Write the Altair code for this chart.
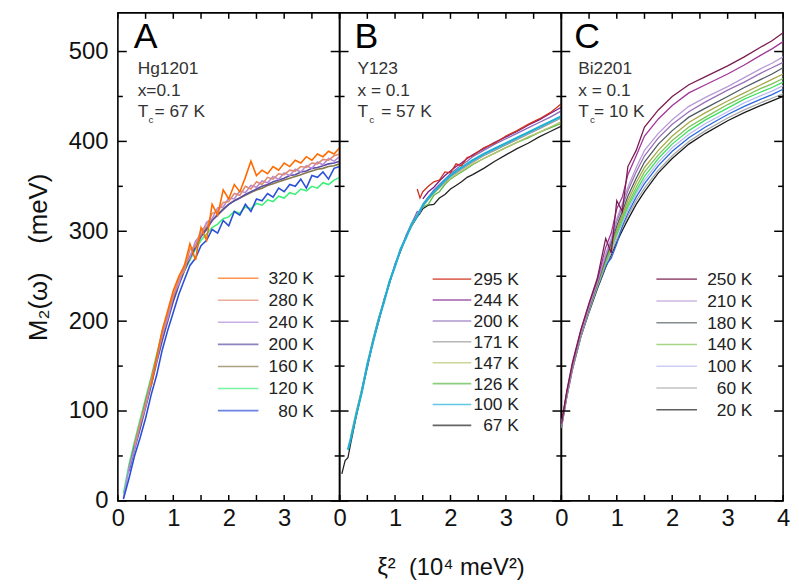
import altair as alt
import pandas as pd

FONT = "Liberation Sans"

# ---------------- Panel A : Hg1201 ----------------
A_X = [0.1, 0.2, 0.3, 0.4, 0.5, 0.6, 0.7, 0.8, 0.9, 1.0, 1.1, 1.2, 1.3, 1.4, 1.5, 1.6, 1.7, 1.8, 1.9, 2.0,
       2.1, 2.2, 2.3, 2.4, 2.5, 2.6, 2.7, 2.8, 2.9, 3.0, 3.1, 3.2, 3.3, 3.4, 3.5, 3.6, 3.7, 3.8, 3.9, 4.0]
A_120 = [8, 40, 66, 90, 114, 138, 163, 188, 208, 226, 242, 256, 268, 280, 290, 297, 304, 308, 314, 316,
         322, 320, 327, 325, 331, 329, 335, 333, 339, 337, 343, 341, 347, 345, 350, 348, 354, 352, 357, 360]
A_160 = [None, 36, 62, 86, 110, 134, 160, 185, 206, 226, 243, 258, 272, 284, 295, 304, 312, 319, 325, 330,
         334, 337, 340, 343, 346, 348, 351, 353, 355, 357, 359, 361, 363, 365, 367, 369, 370, 372, 373, 375]
A_200 = [None, 33, 57, 80, 104, 128, 154, 178, 200, 222, 240, 256, 270, 282, 294, 302, 312, 318, 324, 330,
         334, 337, 341, 344, 347, 350, 352, 355, 357, 359, 362, 363, 366, 367, 370, 371, 373, 375, 376, 378]
A_240 = [3, 36, 58, 85, 105, 133, 156, 186, 203, 229, 242, 262, 271, 289, 296, 310, 314, 326, 327, 337,
         336, 345, 343, 351, 349, 356, 354, 361, 358, 365, 362, 369, 366, 373, 370, 377, 374, 381, 378, 383]
A_280 = [None, None, 62, 86, 108, 135, 160, 188, 210, 228, 248, 256, 280, 283, 302, 305, 320, 322, 332, 333,
         342, 340, 350, 347, 355, 352, 360, 358, 364, 363, 368, 367, 372, 371, 376, 375, 380, 379, 384, 386]
A_80 = [2, 25, 50, 70, 92, 118, 140, 168, 190, 210, 230, 246, 262, 270, 284, 290, 302, 298, 312, 306,
        322, 318, 330, 322, 336, 334, 342, 338, 348, 344, 352, 350, 358, 348, 362, 360, 366, 358, 370, 372]
A_320 = [None, None, None, None, None, 128, 160, 190, 212, 234, 250, 262, 286, 268, 304, 290, 330, 318, 346, 336,
         352, 344, 360, 378, 362, 368, 364, 372, 368, 376, 372, 379, 376, 383, 379, 386, 383, 389, 386, 393]
A_LABELS = ["320 K", "280 K", "240 K", "200 K", "160 K", "120 K", "80 K"]
A_COLORS = ["#ff6a00", "#e08a70", "#b58ad8", "#5b4ea8", "#857a4a", "#3cf07a", "#2b50d8"]
A_DRAW = [("120 K", A_120), ("160 K", A_160), ("200 K", A_200), ("240 K", A_240),
          ("280 K", A_280), ("80 K", A_80), ("320 K", A_320)]

# ---------------- Panel B : Y123 ----------------
B_X = [0.04, 0.1, 0.15, 0.2, 0.3, 0.4, 0.5, 0.6, 0.7, 0.8, 0.9, 1.0, 1.1, 1.2, 1.3, 1.4, 1.45, 1.5, 1.6, 1.7,
       1.8, 1.9, 2.0, 2.1, 2.2, 2.3, 2.4, 2.6, 2.8, 3.0, 3.2, 3.4, 3.6, 3.8, 4.0]
B_67 = [30, 45, 48, 64, 94, 121, 149, 177, 199, 222, 242, 262, 278, 294, 306, 316, 320, 325, 329, 330,
        337, 341, 347, 351, 355, 360, 363, 370, 378, 385, 392, 398, 405, 411, 417]
B_126 = [None, None, None, None, 97, 123, 151, 178, 202, 223, 243, 262, 279, 294, 306, 317, 322, 327, 330, 340,
         344, 352, 358, 362, 366, 370, 374, 381, 387, 393, 399, 404, 410, 415, 420]
B_147 = [None, None, None, 72, 100, 125, 153, 180, 203, 224, 245, 262, 280, 295, 307, 318, 323, 328, 335, 342,
         348, 354, 359, 363, 367, 371, 375, 381, 387, 393, 399, 405, 410, 416, 422]
B_171 = [None, None, None, None, 96, 124, 151, 179, 201, 223, 244, 263, 280, 294, 307, 318, 323, 328, 336, 343,
         349, 355, 361, 365, 369, 373, 377, 384, 390, 396, 402, 408, 414, 420, 426]
B_200 = [None, None, None, None, None, None, 148, 176, 198, 224, 242, 264, 278, 296, 309, 322, 320, 330, 338, 346,
         352, 358, 364, 369, 374, 378, 383, 390, 397, 403, 409, 415, 421, 427, 434]
B_100 = [None, None, 57, 69, 96, 121, 152, 176, 201, 221, 244, 261, 280, 293, 308, 317, 323, 329, 337, 344,
         350, 357, 362, 367, 371, 375, 379, 386, 392, 398, 404, 410, 416, 422, 428]
B_244 = [None, None, None, None, None, None, None, None, None, None, None, None, None, None, None, None, None,
         336, 344, 349, 356, 362, 367, 372, 376, 381, 385, 392, 399, 405, 411, 418, 424, 431, 438]
B_295 = [None, None, None, None, None, None, None, None, None, None, None, None, None, None, None,
         347, 337, 344, 350, 355, 357, 366, 365, 375, 373, 382, 384, 393, 398, 406, 412, 419, 425, 432, 442]
B_LABELS = ["295 K", "244 K", "200 K", "171 K", "147 K", "126 K", "100 K", "67 K"]
B_COLORS = ["#d0301c", "#7a1a8a", "#8a6ab8", "#999999", "#b5c46a", "#5cb84a", "#1fb0d8", "#222222"]
B_DRAW = [("67 K", B_67), ("126 K", B_126), ("147 K", B_147), ("171 K", B_171), ("200 K", B_200),
          ("100 K", B_100), ("244 K", B_244), ("295 K", B_295)]

# ---------------- Panel C : Bi2201 ----------------
C_X = [0, 0.1, 0.2, 0.35, 0.5, 0.65, 0.8, 0.9, 1.0, 1.1, 1.2, 1.35, 1.5, 1.75, 2.0, 2.3, 2.6, 3.0, 3.3, 3.6, 3.8, 4.0]
C_20 = [81, 116, 146, 182, 210, 236, 260, 274, 288, 301, 313, 330, 344, 365, 381, 397, 409, 423, 432, 440, 445, 450]
C_60 = [81, 116, 147, 183, 211, 238, 262, 276, 291, 304, 317, 334, 348, 368, 384, 400, 412, 426, 435, 443, 448, 453]
C_80 = [83, 118, 148, 184, 212, 238, 262, 270, 286, 306, 320, 338, 353, 373, 389, 404, 416, 430, 439, 447, 452, 458]
C_100 = [83, 118, 148, 184, 213, 239, 264, 279, 295, 309, 323, 342, 357, 377, 393, 408, 420, 433, 443, 451, 456, 462]
C_120 = [84, 120, 150, 185, 213, 240, 265, 281, 297, 312, 327, 345, 361, 381, 397, 412, 424, 437, 447, 455, 460, 466]
C_140 = [84, 119, 149, 185, 214, 240, 267, 282, 300, 315, 330, 349, 366, 385, 401, 416, 427, 441, 450, 459, 464, 470]
C_160 = [83, 119, 149, 185, 214, 241, 268, 284, 302, 318, 334, 354, 371, 390, 406, 421, 432, 445, 454, 463, 469, 475]
C_180 = [83, 119, 149, 186, 214, 242, 270, 287, 306, 322, 339, 359, 377, 397, 412, 427, 437, 450, 460, 469, 475, 482]
C_200 = [84, 120, 150, 186, 216, 243, 273, 290, 311, 327, 345, 366, 384, 404, 419, 433, 444, 457, 466, 476, 482, 488]
C_210 = [84, 120, 150, 187, 216, 244, 275, 292, 314, 331, 349, 371, 390, 409, 424, 439, 449, 461, 471, 481, 487, 494]
C_240 = [85, 122, 152, 189, 219, 246, 282, 298, 325, 338, 363, 384, 406, 425, 440, 454, 463, 475, 485, 496, 503, 511]
C_250 = [86, 123, 154, 190, 220, 248, 292, 276, 334, 322, 372, 390, 416, 435, 450, 463, 472, 484, 494, 505, 512, 521]
C_LABELS = ["250 K", "240 K", "210 K", "200 K", "180 K", "160 K", "140 K", "120 K", "100 K", "80 K",
            "60 K", "20 K"]
C_COLORS = ["#7b1c4e", "#a0359a", "#b89ad6", "#9a70b8", "#4f5a60", "#a8a848", "#7cc454", "#3ee060",
            "#b8b8f4", "#2a66e0", "#a8a8a8", "#1a1a1a"]
C_LEGEND = ["250 K", "210 K", "180 K", "140 K", "100 K", "60 K", "20 K"]
C_DRAW = [("20 K", C_20), ("60 K", C_60), ("80 K", C_80), ("100 K", C_100), ("120 K", C_120),
          ("140 K", C_140), ("160 K", C_160), ("180 K", C_180), ("200 K", C_200), ("210 K", C_210),
          ("240 K", C_240), ("250 K", C_250)]

X_TICKS = [0, 0.5, 1, 1.5, 2, 2.5, 3, 3.5, 4]
Y_MAJOR = [0, 100, 200, 300, 400, 500]
Y_MINOR = [50, 150, 250, 350, 450]

W, H = 224, 493
XMAX, YMAX = 4, 543


def long_df(xs, draw):
    rows = []
    for i, (lab, ys) in enumerate(draw):
        for x, y in zip(xs, ys):
            if y is not None:
                rows.append({"x": x, "M": y, "T": lab, "o": i})
    return pd.DataFrame(rows)


def panel(xs, draw, labels, colors, legend_vals, leg, xlabels, xtitle, show_y, ann, thick=None, lw=1.4):
    xsc = alt.Scale(domain=[0, XMAX], nice=False, zero=False)
    ysc = alt.Scale(domain=[0, YMAX], nice=False, zero=False)
    xenc = alt.X("x:Q", scale=xsc,
                 axis=alt.Axis(values=xlabels, title=xtitle, ticks=False, domain=False, grid=False,
                               labelFont=FONT, labelFontSize=24, labelColor="#111", labelPadding=6,
                               labelFlush=False, labelOverlap=False, format="d",
                               titleFont=FONT, titleFontSize=24, titleFontWeight="normal",
                               titleColor="#111", titlePadding=25))
    if show_y:
        yaxis = alt.Axis(values=Y_MAJOR, title="M\u2082(\u03c9)\u00a0\u00a0\u00a0\u00a0(meV)", ticks=False,
                         domain=False, grid=False, labelFont=FONT, labelFontSize=24, labelColor="#111",
                         labelPadding=10, labelFlush=False, titleFont=FONT, titleFontSize=26,
                         titleFontWeight="normal", titleColor="#111", titlePadding=17)
    else:
        yaxis = None
    yenc = alt.Y("M:Q", scale=ysc, axis=yaxis)
    cscale = alt.Scale(domain=labels, range=colors)

    df = long_df(xs, draw)
    if thick:
        sw = alt.condition(alt.datum.T == thick, alt.value(2.2), alt.value(lw))
    else:
        sw = alt.value(lw)
    lines = alt.Chart(df).mark_line(clip=True).encode(
        x=xenc, y=yenc,
        color=alt.Color("T:N", scale=cscale, legend=None),
        strokeWidth=sw,
        order=alt.Order("o:Q"),
    )
    layers = [lines]
    dummy = pd.DataFrame({"a": [0]})

    # inward frame ticks on all four sides (tick values converted to the panel's pixel frame)
    rs = dict(color="black", strokeWidth=1.5)
    for t in X_TICKS:
        px = t * W / XMAX
        layers.append(alt.Chart(dummy).mark_rule(**rs).encode(
            x=alt.value(px), y=alt.value(H), y2=alt.value(H - 6)))
        layers.append(alt.Chart(dummy).mark_rule(**rs).encode(
            x=alt.value(px), y=alt.value(0), y2=alt.value(6)))
    for vals, ln in ((Y_MAJOR, 9), (Y_MINOR, 5)):
        for v in vals:
            py = H - v * H / YMAX
            layers.append(alt.Chart(dummy).mark_rule(**rs).encode(
                x=alt.value(0), x2=alt.value(ln), y=alt.value(py)))
            layers.append(alt.Chart(dummy).mark_rule(**rs).encode(
                x=alt.value(W), x2=alt.value(W - ln), y=alt.value(py)))

    # legend drawn from the same colour scale
    x0, x1, xr, y0, sp = leg
    pyenc = alt.Y("py:Q", scale=None, axis=None)
    ldf = pd.DataFrame({"T": legend_vals, "i": list(range(len(legend_vals)))})
    base = alt.Chart(ldf).transform_calculate(py=f"{y0} + datum.i * {sp}")
    layers.append(base.mark_tick(orient="horizontal", size=x1 - x0, thickness=1.6).encode(
        x=alt.value((x0 + x1) / 2), y=pyenc,
        color=alt.Color("T:N", scale=cscale, legend=None)))
    layers.append(base.mark_text(align="right", baseline="middle", font=FONT, fontSize=17.5, color="#222",
                                 dy=1).encode(x=alt.value(xr), y=pyenc, text="T:N"))

    for txt, px, py, fs, col in ann:
        layers.append(alt.Chart(dummy).mark_text(text=txt, align="left", baseline="alphabetic", font=FONT,
                                                 fontSize=fs, color=col)
                      .encode(x=alt.value(px), y=alt.value(py)))
    return alt.layer(*layers).properties(width=W, height=H)


ANN_A = [("A", 16, 35, 36, "#000"), ("Hg1201", 20, 62, 17.5, "#333"), ("x=0.1", 20, 84, 17.5, "#333"),
         ("T", 20, 105, 17.5, "#333"), ("c", 31, 111, 10, "#333"), ("= 67 K", 37, 105, 17.5, "#333")]
ANN_B = [("B", 15, 35, 36, "#000"), ("Y123", 18, 62, 17.5, "#333"), ("x = 0.1", 18, 84, 17.5, "#333"),
         ("T", 18, 105, 17.5, "#333"), ("c", 30, 111, 10, "#333"), ("= 57 K", 42, 105, 17.5, "#333")]
ANN_C = [("C", 13, 35, 36, "#000"), ("Bi2201", 17, 62, 17.5, "#333"), ("x = 0.1", 17, 84, 17.5, "#333"),
         ("T", 17, 105, 17.5, "#333"), ("c", 29, 111, 10, "#333"), ("= 10 K", 33, 105, 17.5, "#333")]

pA = panel(A_X, A_DRAW, A_LABELS, A_COLORS, A_LABELS, (101, 142, 198, 268, 22.3),
           [0, 1, 2, 3], None, True, ANN_A, lw=1.6)
pB = panel(B_X, B_DRAW, B_LABELS, B_COLORS, B_LABELS, (94, 133, 181, 269, 21.1),
           [0, 1, 2, 3], "\u03be\u00b2\u00a0\u00a0(10\u2074 meV\u00b2)", False, ANN_B, thick="100 K", lw=1.3)
pC = panel(C_X, C_DRAW, C_LABELS, C_COLORS, C_LEGEND, (96, 137, 193, 269, 22.0),
           [0, 1, 2, 3, 4], None, False, ANN_C, lw=1.3)

chart = alt.hconcat(pA, pB, pC, spacing=0, bounds="flush").resolve_scale(color="independent").properties(
    padding={"left": 17, "top": 0, "right": 0, "bottom": 0}
).configure_view(stroke="black", strokeWidth=1.6)

chart.save("out.html", embed_options={"renderer": "svg", "actions": False})
